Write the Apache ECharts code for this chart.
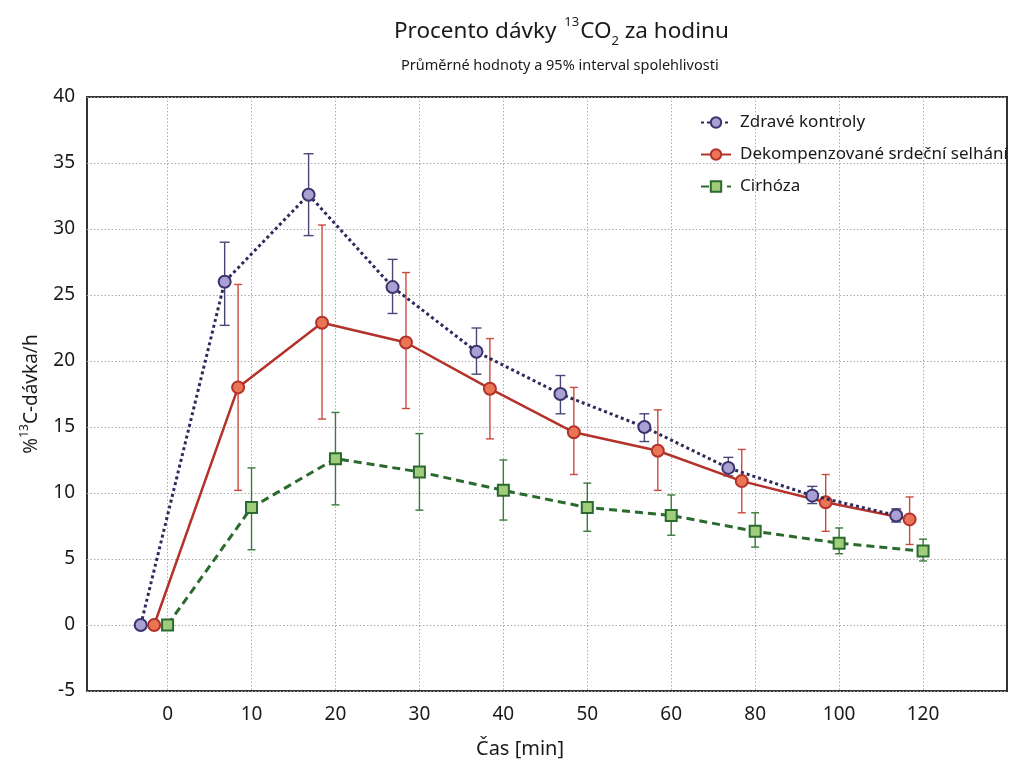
<!DOCTYPE html>
<html>
<head>
<meta charset="utf-8">
<script src="https://cdn.jsdelivr.net/npm/echarts@6/dist/echarts.min.js"></script>
<style>
  html, body { margin: 0; padding: 0; background: #fff; }
  #chart { width: 1020px; height: 762px; }
</style>
</head>
<body>
<div id="chart"></div>
<script>
const times = ['0', '10', '20', '30', '40', '50', '60', '80', '100', '120']
const yTicks = [-5, 0, 5, 10, 15, 20, 25, 30, 35, 40]

const zdrave = [0, 26.0, 32.6, 25.6, 20.7, 17.5, 15.0, 11.9, 9.8, 8.3]
const zdraveLow = [null, 22.7, 29.5, 23.6, 19.0, 16.0, 13.9, 11.3, 9.2, 7.8]
const zdraveHigh = [null, 29.0, 35.7, 27.7, 22.5, 18.9, 16.0, 12.7, 10.5, 8.8]

const dek = [0, 18.0, 22.9, 21.4, 17.9, 14.6, 13.2, 10.9, 9.3, 8.0]
const dekLow = [null, 10.2, 15.6, 16.4, 14.1, 11.4, 10.2, 8.5, 7.1, 6.1]
const dekHigh = [null, 25.8, 30.3, 26.7, 21.7, 18.0, 16.3, 13.3, 11.4, 9.7]

const cir = [0, 8.9, 12.6, 11.6, 10.2, 8.9, 8.3, 7.1, 6.2, 5.6]
const cirLow = [null, 5.7, 9.1, 8.7, 7.95, 7.1, 6.8, 5.9, 5.4, 4.85]
const cirHigh = [null, 11.9, 16.1, 14.5, 12.5, 10.75, 9.85, 8.5, 7.35, 6.5]

const FONT = '"Noto Sans", "Open Sans", sans-serif'
const idx = times.map((t, i) => i)

function points(vals, shift) {
  return vals.map((v, i) => [i + shift, v])
}

function errRows(low, high, shift) {
  const rows = []
  low.forEach((l, i) => {
    if (l != null) rows.push([i + shift, l, high[i]])
  })
  return rows
}

// error bars: vertical whisker + two caps, drawn behind the markers
function errSeries(name, low, high, shift, color, cap) {
  return {
    name: name + ' (CI)',
    type: 'custom',
    z: 1,
    silent: true,
    data: errRows(low, high, shift),
    encode: { x: 0, y: [1, 2] },
    renderItem(params, api) {
      const top = api.coord([api.value(0), api.value(2)])
      const bot = api.coord([api.value(0), api.value(1)])
      const style = { stroke: color, lineWidth: 1.4 }
      return {
        type: 'group',
        children: [
          { type: 'line', shape: { x1: top[0], y1: top[1], x2: bot[0], y2: bot[1] }, style },
          { type: 'line', shape: { x1: top[0] - cap, y1: top[1], x2: top[0] + cap, y2: top[1] }, style },
          { type: 'line', shape: { x1: bot[0] - cap, y1: bot[1], x2: bot[0] + cap, y2: bot[1] }, style }
        ]
      }
    }
  }
}

const gridLine = { show: true, lineStyle: { color: '#aaa', type: [1.5, 2], width: 1 } }

const chart = echarts.init(document.getElementById('chart'))

chart.setOption({
  animation: false,
  title: [
    {
      text: '{a|Procento dávky }{sup|13}{a|CO}{sub|2}{a| za hodinu}',
      left: 389,
      top: 11,
      textStyle: {
        rich: {
          a: { fontFamily: FONT, fontSize: 22.5, fontWeight: 'normal', color: '#1a1a1a', lineHeight: 32, verticalAlign: 'middle' },
          sup: { fontFamily: FONT, fontSize: 13, fontWeight: 'normal', color: '#1a1a1a', lineHeight: 32, verticalAlign: 'top', padding: [0, 1, 0, 2] },
          sub: { fontFamily: FONT, fontSize: 13, fontWeight: 'normal', color: '#1a1a1a', lineHeight: 32, verticalAlign: 'bottom' }
        }
      }
    },
    {
      text: 'Průměrné hodnoty a 95% interval spolehlivosti',
      left: 396,
      top: 53,
      textStyle: { fontFamily: FONT, fontSize: 14.5, fontWeight: 'normal', color: '#1a1a1a' }
    }
  ],
  legend: {
    orient: 'vertical',
    left: 695,
    top: 109,
    itemWidth: 30,
    itemHeight: 13,
    itemGap: 15,
    textStyle: { fontFamily: FONT, fontSize: 17, color: '#1a1a1a', padding: [0, 0, 0, 4] },
    data: ['Zdravé kontroly', 'Dekompenzované srdeční selhání', 'Cirhóza']
  },
  grid: {
    left: 87,
    right: 13,
    top: 97,
    bottom: 71,
    outerBoundsMode: 'none',
    show: true,
    borderColor: '#333',
    borderWidth: 2,
    backgroundColor: '#fff'
  },
  xAxis: {
    type: 'value',
    min: -0.96,
    max: 10,
    name: 'Čas [min]',
    nameLocation: 'middle',
    nameGap: 48,
    nameTextStyle: { fontFamily: FONT, fontSize: 20, color: '#1a1a1a', padding: [0, 54, 0, 0] },
    axisLine: { show: false },
    axisTick: { show: false, customValues: idx },
    axisLabel: {
      customValues: idx,
      margin: 14,
      fontFamily: FONT,
      fontSize: 19,
      color: '#1a1a1a',
      formatter: (v) => times[Math.round(v)]
    },
    splitLine: gridLine
  },
  yAxis: {
    type: 'value',
    min: yTicks[0],
    max: yTicks[yTicks.length - 1],
    interval: 5,
    name: '{p|%}{sup|13}{p|C-dávka/h}',
    nameLocation: 'middle',
    nameGap: 42,
    nameRotate: 90,
    nameTextStyle: {
      rich: {
        p: { fontFamily: FONT, fontSize: 19, color: '#1a1a1a', lineHeight: 26, verticalAlign: 'middle' },
        sup: { fontFamily: FONT, fontSize: 12, color: '#1a1a1a', lineHeight: 26, verticalAlign: 'top' }
      }
    },
    axisLine: { show: false },
    axisTick: { show: false },
    axisLabel: { margin: 12, fontFamily: FONT, fontSize: 19, color: '#1a1a1a' },
    splitLine: gridLine
  },
  series: [
    errSeries('Zdravé kontroly', zdraveLow, zdraveHigh, -0.32, '#4a4578', 5),
    errSeries('Dekompenzované srdeční selhání', dekLow, dekHigh, -0.16, '#cc4a3c', 4),
    errSeries('Cirhóza', cirLow, cirHigh, 0, '#3b7a3b', 4),
    {
      name: 'Cirhóza',
      type: 'line',
      z: 3,
      data: points(cir, 0),
      symbol: 'rect',
      symbolSize: 11,
      lineStyle: { color: '#2b6a2e', width: 3, type: [8, 5] },
      itemStyle: { color: '#9fcd7c', borderColor: '#2b6a2e', borderWidth: 2 }
    },
    {
      name: 'Dekompenzované srdeční selhání',
      type: 'line',
      z: 4,
      data: points(dek, -0.16),
      symbol: 'circle',
      symbolSize: 12,
      lineStyle: { color: '#b3322a', width: 2.5 },
      itemStyle: { color: '#ea7456', borderColor: '#b3322a', borderWidth: 2 }
    },
    {
      name: 'Zdravé kontroly',
      type: 'line',
      z: 5,
      data: points(zdrave, -0.32),
      symbol: 'circle',
      symbolSize: 12,
      lineStyle: { color: '#2e2a5c', width: 3, type: [3, 3] },
      itemStyle: { color: '#a9a1d2', borderColor: '#3b346e', borderWidth: 2 }
    }
  ]
})
</script>
</body>
</html>
